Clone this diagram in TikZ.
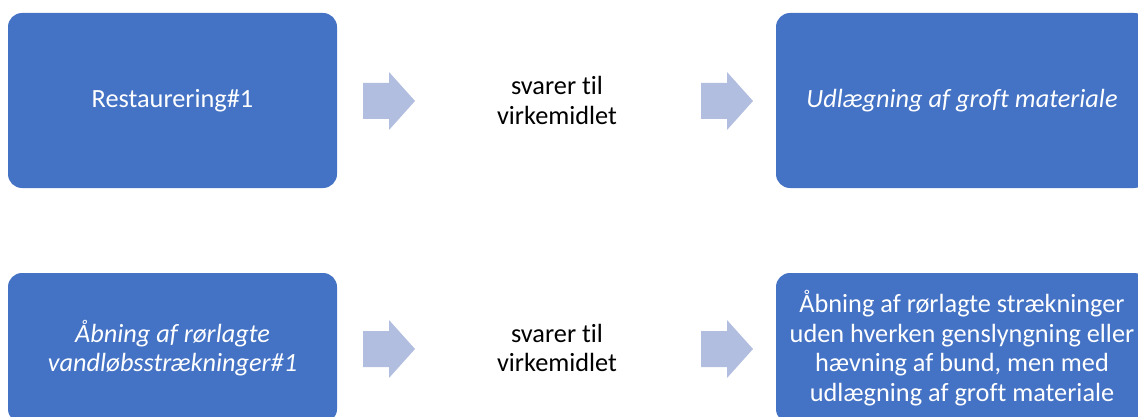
\documentclass[tikz,border=0pt]{standalone}
\usepackage{fontspec}
\setmainfont{Carlito}[Ligatures=NoCommon]
\usetikzlibrary{shapes,positioning}

\definecolor{boksblaa}{RGB}{68,114,196}
\definecolor{pilblaa}{RGB}{178,190,224}

\begin{document}
\begin{tikzpicture}[x=1pt,y=-1pt,
    boks/.style={rectangle, rounded corners=14pt, fill=boksblaa, text=white, align=center, inner sep=0pt, font=\fontsize{26.3}{29.5}\selectfont},
    tekst/.style={align=center, inner sep=0pt, font=\fontsize{26.3}{29.5}\selectfont},
    pil/.style={fill=pilblaa}]
                \useasboundingbox (0,0) rectangle (1138,417);
                \node[boks, minimum width=329pt, minimum height=175pt] (rest) at (172.5,100.5) {Restaurering\#1};
                \node[tekst] (svar1) at (557,100.5) {svarer til\\virkemidlet};
                \node[boks, minimum width=372pt, minimum height=175pt] (udl) at (962,100.5) {\itshape Udlægning af groft materiale};
                \node[boks, minimum width=329pt, minimum height=150pt] (aabn) at (172.5,348) {\itshape Åbning af rørlagte\\\itshape vandløbsstrækninger\#1};
                \node[tekst] (svar2) at (557,348) {svarer til\\virkemidlet};
                \node[boks, minimum width=372pt, minimum height=150pt] (uden) at (962,348) {Åbning af rørlagte strækninger\\uden hverken genslyngning eller\\hævning af bund, men med\\udlægning af groft materiale};
                % blokpile mellem boksene
                \foreach \px/\py in {389/101, 727/101, 389/349, 727/349}
                    \fill[pil, shift={(\px,\py)}] (-26,-18) -- (0,-18) -- (0,-29) -- (26,0) -- (0,29) -- (0,18) -- (-26,18) -- cycle;
            \end{tikzpicture}
\end{document}
